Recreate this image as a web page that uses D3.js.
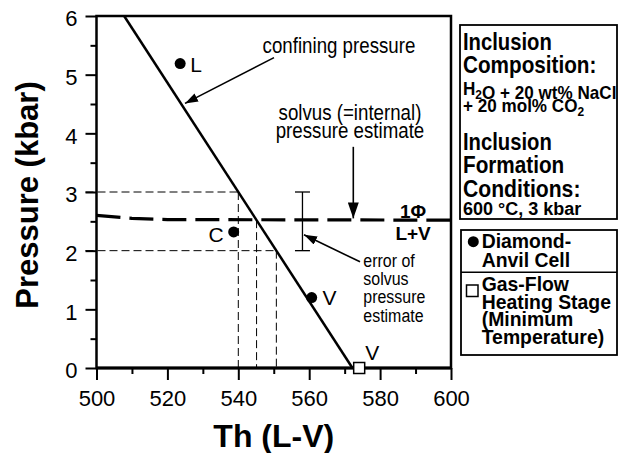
<!DOCTYPE html>
<html>
<head>
<meta charset="utf-8">
<script src="https://cdn.jsdelivr.net/npm/d3@7"></script>
<style>
  body { margin: 0; background: #fff; }
  svg { display: block; }
  text { font-family: "Liberation Sans", Arial, Helvetica, sans-serif; fill: #000; }
</style>
</head>
<body>
<script>
'use strict';

// ---- chart values ----
const xTicks = [500, 520, 540, 560, 580, 600];
const xMinor = [510, 530, 550, 570, 590];
const yTicks = [0, 1, 2, 3, 4, 5, 6];
const yMinor = [0.5, 1.5, 2.5, 3.5, 4.5, 5.5];

// confining pressure line (Th, P)
const confining = [{t: 507.8, p: 6}, {t: 572.2, p: 0}];
// solvus (internal pressure) estimate, long dashes
const solvus = [{t: 500, p: 2.6}, {t: 510, p: 2.55}, {t: 520, p: 2.53}, {t: 600, p: 2.52}];
// diamond-anvil cell measurements
const dacPoints = [
  {t: 523.6, p: 5.19, label: "L"},
  {t: 538.7, p: 2.32, label: "C"},
  {t: 560.7, p: 1.2, label: "V"}
];
// gas-flow heating stage (minimum temperature)
const gasFlow = [{t: 574.1, p: 0, label: "V"}];
// error bar of solvus pressure estimate
const errBar = {t: 558.1, lo: 2, hi: 3};
// pressures of the thin dashed guides
const guideP = [3, 2];

const box1Lines = [
  {text: "Inclusion", size: 23, sx: 0.88},
  {text: "Composition:", size: 23, sx: 0.9},
  {text: "H|2|O + 20 wt% NaCl", size: 18, sx: 0.95},
  {text: "+ 20 mol% CO|2|", size: 18, sx: 0.95},
  {text: "Inclusion", size: 23, sx: 0.88},
  {text: "Formation", size: 23, sx: 0.9},
  {text: "Conditions:", size: 23, sx: 0.92},
  {text: "600 °C, 3 kbar", size: 18, sx: 1}
];
const box1Base = [50, 73, 95, 112, 150, 173, 197, 215];

const width = 625, height = 453;
const svg = d3.select("body").append("svg")
  .attr("width", width)
  .attr("height", height);

const x = d3.scaleLinear().domain([500, 600]).range([96.5, 451]);
const y = d3.scaleLinear().domain([0, 6]).range([368, 16]);

// confining line: Th as function of P
function confT(p) {
  let a = confining[0], b = confining[1];
  return a.t + (p - a.p) * (b.t - a.t) / (b.p - a.p);
}

// text helper, sx squeezes text horizontally like the condensed face in the original
function label(g, str, px, py, opt) {
  opt = opt || {};
  return g.append("text")
    .attr("transform", "translate(" + px + "," + py + ") scale(" + (opt.sx || 1) + ",1)")
    .attr("text-anchor", opt.anchor || "start")
    .style("font-size", (opt.size || 20) + "px")
    .style("font-weight", opt.weight || "normal")
    .text(str);
}

// arrow heads
const defs = svg.append("defs");
function marker(id, len, w) {
  defs.append("marker")
    .attr("id", id)
    .attr("viewBox", "0 0 " + len + " " + w)
    .attr("refX", len).attr("refY", w / 2)
    .attr("markerWidth", len).attr("markerHeight", w)
    .attr("markerUnits", "userSpaceOnUse")
    .attr("orient", "auto")
    .append("path")
    .attr("d", "M0,0L" + len + "," + (w / 2) + "L0," + w + "Z")
    .attr("fill", "#000");
}
marker("arrS", 13, 9);
marker("arrL", 16, 11);

// ---- thin dashed guides ----
const guides = svg.append("g")
  .attr("stroke", "#000")
  .attr("stroke-width", 1)
  .attr("stroke-dasharray", "8,4")
  .attr("fill", "none");

guideP.forEach(function(p) {
  guides.append("line")
    .attr("x1", x(500) - 11).attr("x2", x(confT(p)))
    .attr("y1", y(p)).attr("y2", y(p));
  guides.append("line")
    .attr("x1", x(confT(p))).attr("x2", x(confT(p)))
    .attr("y1", y(p)).attr("y2", y(0));
});
// vertical guide from solvus / confining intersection
const solvusP = solvus[solvus.length - 1].p;
guides.append("line")
  .attr("x1", x(confT(solvusP))).attr("x2", x(confT(solvusP)))
  .attr("y1", y(solvusP)).attr("y2", y(0));

// ---- error bar ----
const eb = svg.append("g").attr("stroke", "#000").attr("stroke-width", 1.3);
eb.append("line")
  .attr("x1", x(errBar.t)).attr("x2", x(errBar.t))
  .attr("y1", y(errBar.lo)).attr("y2", y(errBar.hi));
[errBar.lo, errBar.hi].forEach(function(p) {
  eb.append("line")
    .attr("x1", x(errBar.t) - 7.5).attr("x2", x(errBar.t) + 7.5)
    .attr("y1", y(p)).attr("y2", y(p));
});

// ---- solvus line ----
const line = d3.line().x(d => x(d.t)).y(d => y(d.p));
svg.append("path")
  .datum(solvus)
  .attr("d", line)
  .attr("fill", "none")
  .attr("stroke", "#000")
  .attr("stroke-width", 3.2)
  .attr("stroke-dasharray", "24,9");

// ---- confining pressure line ----
svg.append("path")
  .datum(confining)
  .attr("d", line)
  .attr("fill", "none")
  .attr("stroke", "#000")
  .attr("stroke-width", 2.5);

// ---- axes ----
svg.append("g")
  .attr("transform", "translate(0," + y(0) + ")")
  .call(d3.axisBottom(x).tickValues(xTicks).tickFormat(d3.format("d"))
    .tickSize(12).tickPadding(10).tickSizeOuter(0));
svg.append("g")
  .attr("transform", "translate(0," + y(0) + ")")
  .call(d3.axisBottom(x).tickValues(xMinor).tickSize(6).tickFormat("").tickSizeOuter(0));
const yAxis = svg.append("g")
  .attr("transform", "translate(" + x(500) + ",0)")
  .call(d3.axisLeft(y).tickValues(yTicks).tickFormat(d3.format("d"))
    .tickSize(11).tickPadding(8).tickSizeOuter(0));
svg.append("g")
  .attr("transform", "translate(" + x(500) + ",0)")
  .call(d3.axisLeft(y).tickValues(yMinor).tickSize(6).tickFormat("").tickSizeOuter(0));

svg.selectAll(".domain").remove();
svg.selectAll(".tick line").attr("stroke", "#000").attr("stroke-width", 2);
svg.selectAll(".tick text")
  .attr("fill", "#000")
  .style("font-family", '"Liberation Sans", Arial, Helvetica, sans-serif')
  .style("font-size", "22px");
yAxis.selectAll(".tick text").attr("dy", "0.45em");

// frame
svg.append("rect")
  .attr("x", x(500)).attr("y", y(6))
  .attr("width", x(600) - x(500)).attr("height", y(0) - y(6))
  .attr("fill", "none")
  .attr("stroke", "#000")
  .attr("stroke-width", 2.5);
svg.append("line")
  .attr("x1", x(500)).attr("x2", x(600))
  .attr("y1", y(0)).attr("y2", y(0))
  .attr("stroke", "#000").attr("stroke-width", 3);

// axis titles
label(svg, "Th (L-V)", (x(500) + x(600)) / 2, 447, {size: 32, weight: "bold", anchor: "middle"});
svg.append("text")
  .attr("transform", "translate(38," + ((y(0) + y(6)) / 2 + 3) + ") rotate(-90)")
  .attr("text-anchor", "middle")
  .style("font-size", "31px")
  .style("font-weight", "bold")
  .text("Pressure (kbar)");

// ---- points ----
const lblOff = {L: [10, 8.4, "start"], C: [-10, 10, "end"], V: [10.7, 7.3, "start"]};
svg.selectAll(".dac")
  .data(dacPoints)
  .enter()
  .append("circle")
  .attr("class", "dac")
  .attr("cx", d => x(d.t))
  .attr("cy", d => y(d.p))
  .attr("r", 5.5)
  .attr("fill", "#000");
dacPoints.forEach(function(d) {
  let o = lblOff[d.label];
  label(svg, d.label, x(d.t) + o[0], y(d.p) + o[1], {size: 21, anchor: o[2]});
});

svg.selectAll(".gas")
  .data(gasFlow)
  .enter()
  .append("rect")
  .attr("class", "gas")
  .attr("x", d => x(d.t) - 5.5)
  .attr("y", d => y(d.p) - 5.5)
  .attr("width", 11).attr("height", 11)
  .attr("fill", "#fff")
  .attr("stroke", "#000")
  .attr("stroke-width", 1.5);
gasFlow.forEach(function(d) {
  label(svg, d.label, x(d.t) + 6, y(d.p) - 8, {size: 21});
});

// ---- annotations ----
function arrow(t1, p1, t2, p2, mk, sw) {
  svg.append("line")
    .attr("x1", x(t1)).attr("y1", y(p1))
    .attr("x2", x(t2)).attr("y2", y(p2))
    .attr("stroke", "#000")
    .attr("stroke-width", sw)
    .attr("marker-end", "url(#" + mk + ")");
}
label(svg, "confining pressure", x(568.4), y(5.37), {size: 22, sx: 0.85, anchor: "middle"});
arrow(550.07, 5.29, 524.96, 4.51, "arrS", 1.6);

label(svg, "solvus (=internal)", x(571.5), y(4.227), {size: 22, sx: 0.85, anchor: "middle"});
label(svg, "pressure estimate", x(571.5), y(3.92), {size: 22, sx: 0.85, anchor: "middle"});
arrow(572.44, 3.77, 572.44, 2.55, "arrL", 1.6);

label(svg, "1Φ", x(589.3), y(2.557), {size: 19, weight: "bold", anchor: "middle"});
label(svg, "L+V", x(589.3), y(2.18), {size: 19, weight: "bold", anchor: "middle"});

["error of", "solvus", "pressure", "estimate"].forEach(function(s, i) {
  label(svg, s, x(575.26), y(1.727) + i * 18.3, {size: 19, sx: 0.84});
});
arrow(574.33, 1.81, 558.53, 2.27, "arrS", 1.6);

// ---- right-hand boxes ----
const box = svg.append("g");
box.append("rect")
  .attr("x", 460).attr("y", 25).attr("width", 157).attr("height", 194)
  .attr("fill", "none").attr("stroke", "#000").attr("stroke-width", 1.8);

box1Lines.forEach(function(l, i) {
  let t = box.append("text")
    .attr("transform", "translate(463," + box1Base[i] + ") scale(" + l.sx + ",1)")
    .style("font-size", l.size + "px")
    .style("font-weight", "bold");
  l.text.split("|").forEach(function(part, j) {
    if (j % 2 === 1) {
      t.append("tspan").attr("dy", 4).style("font-size", (l.size * 0.7) + "px").text(part);
      t.append("tspan").attr("dy", -4).text("");
    } else {
      t.append("tspan").text(part);
    }
  });
});

box.append("rect")
  .attr("x", 461).attr("y", 230).attr("width", 156).attr("height", 125)
  .attr("fill", "none").attr("stroke", "#000").attr("stroke-width", 1.8);
box.append("line")
  .attr("x1", 461).attr("x2", 617).attr("y1", 272.3).attr("y2", 272.3)
  .attr("stroke", "#000").attr("stroke-width", 1.5);
box.append("circle").attr("cx", 473.3).attr("cy", 241.7).attr("r", 5.5).attr("fill", "#000");
box.append("rect").attr("x", 466.5).attr("y", 285).attr("width", 11.5).attr("height", 11.5)
  .attr("fill", "#fff").attr("stroke", "#000").attr("stroke-width", 1.5);
[["Diamond-", 248], ["Anvil Cell", 266.7], ["Gas-Flow", 291], ["Heating Stage", 308.5],
 ["(Minimum", 326], ["Temperature)", 344]].forEach(function(r) {
  label(box, r[0], 481.7, r[1], {size: 20, weight: "bold", sx: 0.97});
});
</script>
</body>
</html>
